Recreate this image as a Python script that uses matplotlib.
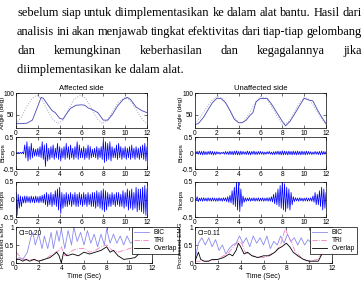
import numpy as np
import matplotlib
matplotlib.use("Agg")
import matplotlib.pyplot as plt

# =========================================================================
#  Data
# =========================================================================
para_lines = [
    "sebelum siap untuk diimplementasikan ke dalam alat bantu. Hasil dari",
    "analisis ini akan menjawab tingkat efektivitas dari tiap-tiap gelombang",
    "dan kemungkinan keberhasilan dan kegagalannya jika",
    "diimplementasikan ke dalam alat.",
]

# joint angle (deg)
aff_t = [0, .5, 1, 1.5, 2, 2.3, 2.5, 3, 3.3, 3.6, 4, 4.3, 4.7, 5, 5.5, 6, 6.3,
         6.6, 7, 7.5, 8, 8.4, 8.8, 9.3, 9.8, 10.2, 10.5, 11, 11.5, 12]
aff_angle = [30, 30, 31, 38, 70, 90, 88, 70, 60, 55, 42, 40, 55, 65, 72, 73, 72,
             66, 62, 55, 38, 38, 50, 70, 85, 90, 85, 68, 60, 55]
aff_ref_t = [0, .5, 1, 1.5, 1.9, 2.3, 2.8, 3.3, 3.8, 4.3, 4.8, 5.3, 5.9, 6.4,
             6.9, 7.4, 7.9, 8.4, 8.9, 9.4, 10, 10.5, 11, 11.5, 12]
aff_ref = [30, 45, 70, 88, 95, 88, 65, 42, 30, 38, 62, 85, 95, 88, 65, 42, 30,
           38, 60, 80, 90, 82, 62, 42, 30]

una_t = [0, .3, .8, 1.2, 1.6, 2, 2.4, 2.8, 3.2, 3.6, 4, 4.3, 4.7, 5, 5.3, 5.6, 6,
         6.3, 6.6, 7, 7.5, 8, 8.3, 8.7, 9.2, 9.6, 10, 10.4, 10.8, 11.2, 11.6, 12]
una_angle = [28, 30, 45, 62, 78, 88, 87, 78, 60, 40, 32, 32, 38, 48, 55, 80, 88,
             87, 88, 75, 55, 35, 25, 35, 55, 72, 88, 84, 82, 62, 45, 30]
una_ref_t = [0, .5, 1, 1.5, 2, 2.5, 3, 3.5, 4, 4.5, 5, 5.5, 6, 6.5, 7, 7.5, 8,
             8.5, 9, 9.5, 10, 10.5, 11, 11.5, 12]
una_ref = [30, 45, 65, 82, 92, 88, 70, 48, 32, 35, 55, 78, 92, 88, 70, 48, 28,
           32, 52, 75, 90, 85, 65, 45, 28]

# raw EMG envelopes, one value every 0.2 s (positive peak, negative peak size)
aff_bic_up = [.02, .02, .02, .03, .25, .35, .2, .3, .15, .12,
              .15, .2, .35, .25, .3, .15, .2, .25, .15, .3,
              .2, .15, .2, .3, .2, .25, .15, .2, .35, .25,
              .15, .2, .15, .25, .2, .12, .15, .2, .15, .2,
              .4, .35, .3, .35, .2, .15, .25, .3, .2, .15,
              .2, .15, .2, .25, .15, .2, .15, .2, .25, .3, .2]
aff_bic_dn = [.02, .02, .02, .03, .15, .25, .2, .15, .1, .1,
              .12, .15, .2, .42, .25, .2, .15, .2, .15, .2,
              .25, .15, .2, .15, .2, .15, .2, .15, .2, .15,
              .15, .2, .15, .2, .15, .12, .15, .2, .15, .2,
              .3, .25, .2, .25, .15, .15, .2, .15, .2, .15,
              .2, .15, .2, .15, .2, .15, .2, .15, .2, .25, .2]
una_bic_up = [.01, .05, .06, .05, .06, .04, .05, .06, .05, .04,
              .04, .03, .02, .03, .05, .04, .06, .05, .06, .07,
              .05, .06, .05, .04, .06, .05, .05, .06, .04, .05,
              .05, .04, .03, .04, .05, .03, .04, .05, .06, .05,
              .07, .06, .05, .06, .05, .06, .05, .06, .05, .06,
              .05, .06, .05, .04, .03, .05, .04, .05, .06, .05, .04]
una_bic_dn = [.01, .04, .05, .06, .05, .05, .04, .05, .06, .05,
              .03, .04, .02, .04, .04, .05, .05, .06, .05, .06,
              .06, .05, .04, .05, .05, .06, .04, .05, .05, .04,
              .04, .05, .04, .03, .04, .05, .05, .04, .05, .06,
              .06, .05, .06, .05, .06, .05, .06, .05, .06, .05,
              .06, .05, .04, .05, .04, .04, .05, .06, .05, .04, .04]
aff_tri_up = [.2, .15, .1, .08, .1, .1, .08, .1, .08, .1,
              .08, .1, .12, .15, .2, .15, .2, .15, .25, .3,
              .35, .2, .15, .2, .15, .2, .15, .2, .15, .2,
              .15, .2, .15, .2, .15, .2, .2, .25, .2, .25,
              .3, .25, .2, .15, .2, .15, .2, .2, .15, .25,
              .2, .3, .25, .3, .2, .35, .3, .3, .35, .4, .3]
aff_tri_dn = [.45, .25, .2, .1, .1, .08, .1, .08, .1, .08,
              .1, .08, .1, .15, .2, .15, .2, .15, .2, .3,
              .4, .25, .2, .2, .15, .2, .15, .2, .2, .15,
              .2, .15, .2, .15, .2, .2, .25, .2, .25, .3,
              .35, .3, .2, .2, .15, .2, .15, .2, .2, .25,
              .2, .3, .25, .3, .25, .35, .3, .35, .4, .45, .3]
una_tri_up = [.02, .08, .04, .05, .05, .04, .05, .04, .05, .04,
              .04, .05, .04, .05, .05, .08, .12, .25, .35, .5,
              .5, .3, .1, .05, .04, .05, .04, .05, .04, .05,
              .04, .05, .04, .05, .05, .08, .15, .2, .3, .4,
              .5, .45, .35, .3, .2, .08, .05, .04, .05, .04,
              .04, .05, .04, .05, .1, .2, .15, .25, .35, .3, .2]
una_tri_dn = [.02, .06, .04, .05, .04, .05, .04, .05, .04, .05,
              .05, .04, .05, .04, .06, .08, .1, .15, .2, .3,
              .35, .2, .08, .05, .04, .05, .04, .05, .04, .05,
              .04, .05, .04, .05, .05, .07, .12, .15, .2, .25,
              .3, .35, .25, .3, .15, .06, .04, .05, .04, .05,
              .04, .05, .04, .05, .08, .15, .15, .2, .3, .25, .2]

# processed EMG (normalised)
aff_bic_t = [0, .3, .6, 1, 1.3, 1.5, 1.7, 2, 2.3, 2.5, 2.8, 3.1, 3.3, 3.6, 3.8,
             4, 4.3, 4.6, 4.9, 5.1, 5.4, 5.7, 6, 6.3, 6.6, 6.9, 7.2, 7.5, 7.8,
             8, 8.3, 8.6, 8.9, 9.2, 9.5, 9.8, 10.1, 10.4, 10.8, 11.1, 11.5, 12]
aff_bic = [.1, .15, .1, .3, .7, .85, .5, .8, .4, .75, .4, .85, .4, .9, .6,
           .95, .4, .9, .5, 1.0, .6, .85, .5, .9, .55, .8, .45, .8, .5,
           .95, .55, .8, .55, .75, .5, .75, .55, .6, .35, .3, .4, .45]
aff_tri_t = [0, .3, .6, 1, 1.5, 2, 2.5, 3, 3.5, 3.8, 4, 4.3, 5, 5.5, 6, 6.5,
             7, 7.5, 8, 8.5, 9, 9.5, 10, 10.5, 11, 11.5, 12]
aff_tri = [.3, .2, .1, .08, .1, .05, .1, .2, .3, .35, .45, .2, .35, .4, .4,
           .3, .35, .45, .5, .35, .3, .35, .4, .45, .4, .5, .5]
aff_ovl_t = [0, .3, .6, .9, 1.2, 1.6, 2, 2.5, 3, 3.4, 3.6, 3.8, 4, 4.2, 4.5,
             5, 5.5, 6, 6.5, 7, 7.5, 8, 8.3, 8.6, 9, 9.5, 10, 10.5, 11, 11.5]
aff_ovl = [.1, .1, .05, .1, .05, .1, .05, .1, .15, .25, .3, .2, 0, .3, .2,
           .25, .2, .3, .25, .3, .35, .45, .3, .35, .2, .1, .12, .15, .3, .35]

una_bic_t = [0, .3, .6, .9, 1.2, 1.5, 1.8, 2.1, 2.4, 2.7, 3, 3.3, 3.6, 3.9,
             4.2, 4.5, 4.8, 5.1, 5.4, 5.7, 6, 6.3, 6.6, 6.9, 7.2, 7.5, 7.8,
             8.1, 8.4, 8.7, 9, 9.3, 9.6, 9.9, 10.2, 10.5, 10.8, 11.1, 11.4,
             11.7, 12]
una_bic = [.1, .55, .7, .5, .7, .45, .65, .35, .5, .25, .4, .5, .55, .75,
           .55, .7, .45, .75, .55, .7, .5, .75, .4, .6, .5, .75, .55,
           .8, .6, .7, .5, .7, .5, .65, .55, .5, .3, .25, .4,
           .35, .4]
una_tri_t = [0, 1, 2, 3, 3.5, 3.8, 4.1, 4.4, 5, 6, 7, 7.5, 7.9, 8.1, 8.4, 8.8,
             9.5, 10, 10.8, 11.3, 11.7, 12]
una_tri = [.05, .05, .1, .3, .5, .6, .55, .3, .2, .15, .3, .5, .95, .8, .6, .3,
           .1, .05, .1, .4, .5, .4]
una_ovl_t = [0, .3, .5, .8, 1.2, 1.5, 2, 2.5, 3, 3.3, 3.6, 3.8, 4, 4.3, 4.6, 5,
             5.5, 6, 6.5, 7, 7.3, 7.6, 8, 8.3, 8.6, 9, 9.5, 10, 10.5, 10.8,
             11.2, 11.5, 12]
una_ovl = [.05, .3, .1, .05, .05, .1, .1, .15, .25, .2, .35, .55, .45, .25,
           .3, .2, .15, .2, .2, .3, .4, .45, .55, .45, .3, .2, .1, .05, .05,
           .05, .3, .4, .35]

ci_text = ["CI=0.20", "CI=0.11"]
titles = ["Affected side", "Unaffected side"]
emg_step = 0.2

# =========================================================================
#  Figure
# =========================================================================
W, H = 364, 284
fig = plt.figure(figsize=(W / 100, H / 100), dpi=100)
plt.rcParams["font.family"] = "Liberation Sans"

C_ANG = "#4646b8"
C_REF = "#a8a8c4"
C_EMG = "#0000ff"
C_BIC = "#8a8af0"
C_TRI = "#f07cc0"
LAB = 4.5


def px_ax(x0, y0, x1, y1):
    return fig.add_axes([x0 / W, 1 - y1 / H, (x1 - x0) / W, (y1 - y0) / H])


def style(ax):
    ax.tick_params(direction="in", length=2, width=0.4, top=True, right=True,
                   labelsize=4.8, pad=1.5)
    for s in ax.spines.values():
        s.set_linewidth(0.5)
    ax.set_xlim(0, 12)
    ax.set_xticks([0, 2, 4, 6, 8, 10, 12])


# paragraph text (justified like the source page)
def text_line(text, y, x0, x1=None, size=8.9):
    fam = "Liberation Serif"
    if x1 is None:
        fig.text(x0 / W, 1 - y / H, text, fontsize=size, family=fam, va="baseline")
        return
    r = fig.canvas.get_renderer()
    words = text.split()
    ts = [fig.text(0, 1 - y / H, w, fontsize=size, family=fam, va="baseline")
          for w in words]
    widths = [t.get_window_extent(r).width for t in ts]
    gap = (x1 - x0 - sum(widths)) / (len(words) - 1)
    x = x0
    for t, w in zip(ts, widths):
        t.set_x(x / W)
        x += w + gap


text_line(para_lines[0], 16, 17, 362)
text_line(para_lines[1], 35, 17, 362)
text_line(para_lines[2], 54, 17, 362)
text_line(para_lines[3], 73, 17)

cols = [
    dict(x0=16, x1=147, x1b=152, lab=-0.082,
         ang=(aff_t, aff_angle, aff_ref_t, aff_ref),
         bic=(aff_bic_up, aff_bic_dn), tri=(aff_tri_up, aff_tri_dn),
         proc=(aff_bic_t, aff_bic, aff_tri_t, aff_tri, aff_ovl_t, aff_ovl)),
    dict(x0=195, x1=326, x1b=332, lab=-0.088,
         ang=(una_t, una_angle, una_ref_t, una_ref),
         bic=(una_bic_up, una_bic_dn), tri=(una_tri_up, una_tri_dn),
         proc=(una_bic_t, una_bic, una_tri_t, una_tri, una_ovl_t, una_ovl)),
]

for k, c in enumerate(cols):
    # angle
    ax = px_ax(c["x0"], 93, c["x1"], 128)
    t, a, tr, ar = c["ang"]
    ax.plot(tr, ar, color=C_REF, lw=0.7, ls=":")
    ax.plot(t, a, color=C_ANG, lw=0.6)
    ax.set_ylim(20, 100)
    ax.set_yticks([50, 100])
    style(ax)
    ax.set_title(titles[k], fontsize=5.5, pad=2)
    ax.set_ylabel("Angle (deg)", fontsize=LAB)
    ax.yaxis.set_label_coords(c["lab"], 0.42)

    # raw EMG
    for (y0, y1, key, name) in [(137, 169, "bic", "Biceps"), (182, 217, "tri", "Triceps")]:
        ax = px_ax(c["x0"], y0, c["x1"], y1)
        up, dn = c[key]
        te = np.arange(len(up)) * emg_step
        xs = np.column_stack([te, te + emg_step / 2]).ravel()
        ys = np.column_stack([np.array(up), -np.array(dn)]).ravel()
        ax.plot(xs, ys, color=C_EMG, lw=0.55)
        ax.set_ylim(-0.5, 0.5)
        ax.set_yticks([-0.5, 0, 0.5])
        ax.set_yticklabels(["-0.5", "0", "0.5"])
        style(ax)
        ax.set_ylabel(name, fontsize=LAB)
        ax.yaxis.set_label_coords(c["lab"], 0.5)

    # processed EMG
    ax = px_ax(c["x0"], 227, c["x1b"], 263)
    bt, bv, tt, tv, ot, ov = c["proc"]
    ax.plot(bt, bv, color=C_BIC, lw=0.6, label="BIC")
    ax.plot(tt, tv, color=C_TRI, lw=0.6, ls="-.", label="TRI")
    ax.plot(ot, ov, color="black", lw=0.6, label="Overlap")
    ax.set_ylim(0, 1)
    ax.set_yticks([0, 0.5, 1])
    ax.set_yticklabels(["0", "0.5", "1"])
    style(ax)
    ax.text(0.02, 0.92, ci_text[k], transform=ax.transAxes, fontsize=4.8, va="top")
    ax.set_ylabel("Processed EMG", fontsize=LAB)
    ax.yaxis.set_label_coords(c["lab"] * 131 / (c["x1b"] - c["x0"]), 0.5)
    ax.set_xlabel("Time (Sec)", fontsize=5, labelpad=0.5)
    lx = (132 - 16) / 136 if k == 0 else (310 - 195) / 137
    leg = ax.legend(loc="upper left", bbox_to_anchor=(lx, 1.0), borderaxespad=0,
                    fontsize=4.8, handlelength=2.3, handletextpad=0.6,
                    borderpad=0.3, labelspacing=0.15, fancybox=False,
                    framealpha=1, edgecolor="black")
    leg.get_frame().set_linewidth(0.5)

fig.savefig("out.png", dpi=100)
